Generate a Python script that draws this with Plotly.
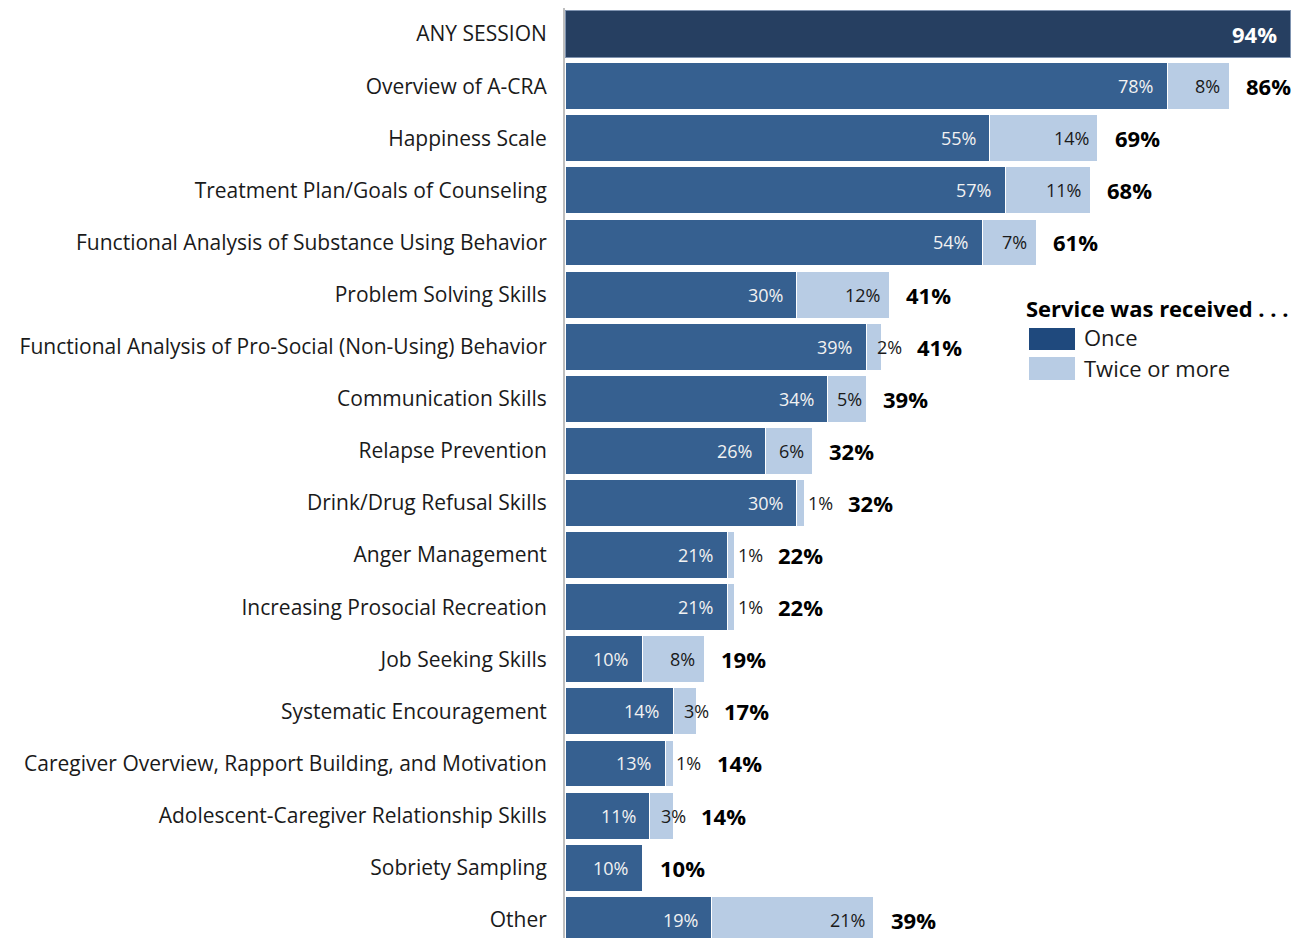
import plotly.graph_objects as go

# --- data -------------------------------------------------------------
categories = [
    "ANY SESSION",
    "Overview of A-CRA",
    "Happiness Scale",
    "Treatment Plan/Goals of Counseling",
    "Functional Analysis of Substance Using Behavior",
    "Problem Solving Skills",
    "Functional Analysis of Pro-Social (Non-Using) Behavior",
    "Communication Skills",
    "Relapse Prevention",
    "Drink/Drug Refusal Skills",
    "Anger Management",
    "Increasing Prosocial Recreation",
    "Job Seeking Skills",
    "Systematic Encouragement",
    "Caregiver Overview, Rapport Building, and Motivation",
    "Adolescent-Caregiver Relationship Skills",
    "Sobriety Sampling",
    "Other",
]
any_session = 94
once = [None, 78, 55, 57, 54, 30, 39, 34, 26, 30, 21, 21, 10, 14, 13, 11, 10, 19]
twice = [None, 8, 14, 11, 7, 12, 2, 5, 6, 1, 1, 1, 8, 3, 1, 3, 0, 21]
totals = [94, 86, 69, 68, 61, 41, 41, 39, 32, 32, 22, 22, 19, 17, 14, 14, 10, 39]

# --- layout constants -------------------------------------------------
W, H = 1299, 938
M_L, M_R, M_T, M_B = 565, 0, 8, 0
X_MAX = 95.05
PPU = (W - M_L - M_R) / X_MAX          # pixels per percentage point

FONT = "Open Sans"
C_ANY = "#263F61"
C_ONCE = "#366090"
C_TWICE = "#B8CCE4"
C_LEG_ONCE = "#1F497D"

fig = go.Figure()

fig.add_trace(go.Bar(
    y=[categories[0]], x=[any_session], orientation="h",
    marker=dict(color=C_ANY, line=dict(color="#7f93b0", width=1)),
    showlegend=False, hoverinfo="x+y",
))
fig.add_trace(go.Bar(
    y=categories, x=once, orientation="h", name="Once",
    marker=dict(color=C_ONCE, line=dict(color="white", width=1)),
    showlegend=False,
))
fig.add_trace(go.Bar(
    y=categories, x=twice, orientation="h", name="Twice or more",
    marker=dict(color=C_TWICE, line=dict(color="white", width=1)),
    showlegend=False,
))


def text_w(s, size):
    # rough width of a percentage label in px
    return sum(0.56 * size if ch.isdigit() else 0.78 * size for ch in s)


ann = []
LBL = 18
TOT = 22
# ANY SESSION total inside the bar
ann.append(dict(x=any_session, y=categories[0], text=f"<b>{any_session}%</b>",
                xanchor="right", xshift=-12, showarrow=False,
                font=dict(family=FONT, size=TOT, color="white")))

for i in range(1, len(categories)):
    cat = categories[i]
    o, t, tot = once[i], twice[i], totals[i]
    # "Once" label, inside end
    ann.append(dict(x=o, y=cat, text=f"{o}%", xanchor="right", xshift=-12,
                    showarrow=False,
                    font=dict(family=FONT, size=LBL, color="#F2F2F2")))
    light_right = 0  # px from end of dark segment
    if t:
        s = f"{t}%"
        tw = text_w(s, LBL)
        wpx = t * PPU
        if t < 5:
            left = 9
            light_right = left + tw
        else:
            light_right = max(wpx / 2 + tw / 2, wpx - 12)
            left = light_right - tw
        ann.append(dict(x=o, y=cat, text=s, xanchor="left", xshift=left,
                        showarrow=False,
                        font=dict(family=FONT, size=LBL, color="#1a1a1a")))
    shift = max(t * PPU + 15, light_right + 16)
    ann.append(dict(x=o, y=cat, text=f"<b>{tot}%</b>", xanchor="left",
                    xshift=shift, showarrow=False,
                    font=dict(family=FONT, size=TOT, color="black")))


# --- hand-drawn legend ------------------------------------------------
def px_x(px):
    return (px - M_L) / (W - M_L - M_R)


def px_y(py):
    return (H - M_B - py) / (H - M_T - M_B)


shapes = []
legend_items = [("Once", C_LEG_ONCE, 328, 350, 337),
                ("Twice or more", C_TWICE, 357, 380, 368)]
for name, col, y0, y1, yc in legend_items:
    shapes.append(dict(type="rect", xref="paper", yref="paper",
                       x0=px_x(1029), x1=px_x(1075), y0=px_y(y1), y1=px_y(y0),
                       fillcolor=col, line=dict(width=0), layer="above"))
    ann.append(dict(xref="paper", yref="paper", x=px_x(1082), y=px_y(yc),
                    text=name, xanchor="left", yanchor="middle",
                    showarrow=False,
                    font=dict(family=FONT, size=22, color="#1a1a1a")))
ann.append(dict(xref="paper", yref="paper", x=px_x(1024), y=px_y(308),
                text="<b>Service was received . . .</b>", xanchor="left",
                yanchor="middle", showarrow=False,
                font=dict(family=FONT, size=22, color="black")))

fig.update_layout(
    width=W, height=H,
    margin=dict(l=M_L, r=M_R, t=M_T, b=M_B, pad=0),
    barmode="stack", bargap=0.1,
    plot_bgcolor="white", paper_bgcolor="white",
    font=dict(family=FONT, size=21, color="#1a1a1a"),
    xaxis=dict(range=[0, X_MAX], visible=False, fixedrange=True),
    yaxis=dict(
        categoryorder="array", categoryarray=categories,
        range=[17.35, -0.5],
        showline=True, linecolor="#BFBFBF", linewidth=2,
        ticks="", showgrid=False, zeroline=False,
        ticklabelstandoff=12,
        tickfont=dict(family=FONT, size=21, color="#1a1a1a"),
    ),
    annotations=ann,
    shapes=shapes,
)

fig.write_html("out.html")
